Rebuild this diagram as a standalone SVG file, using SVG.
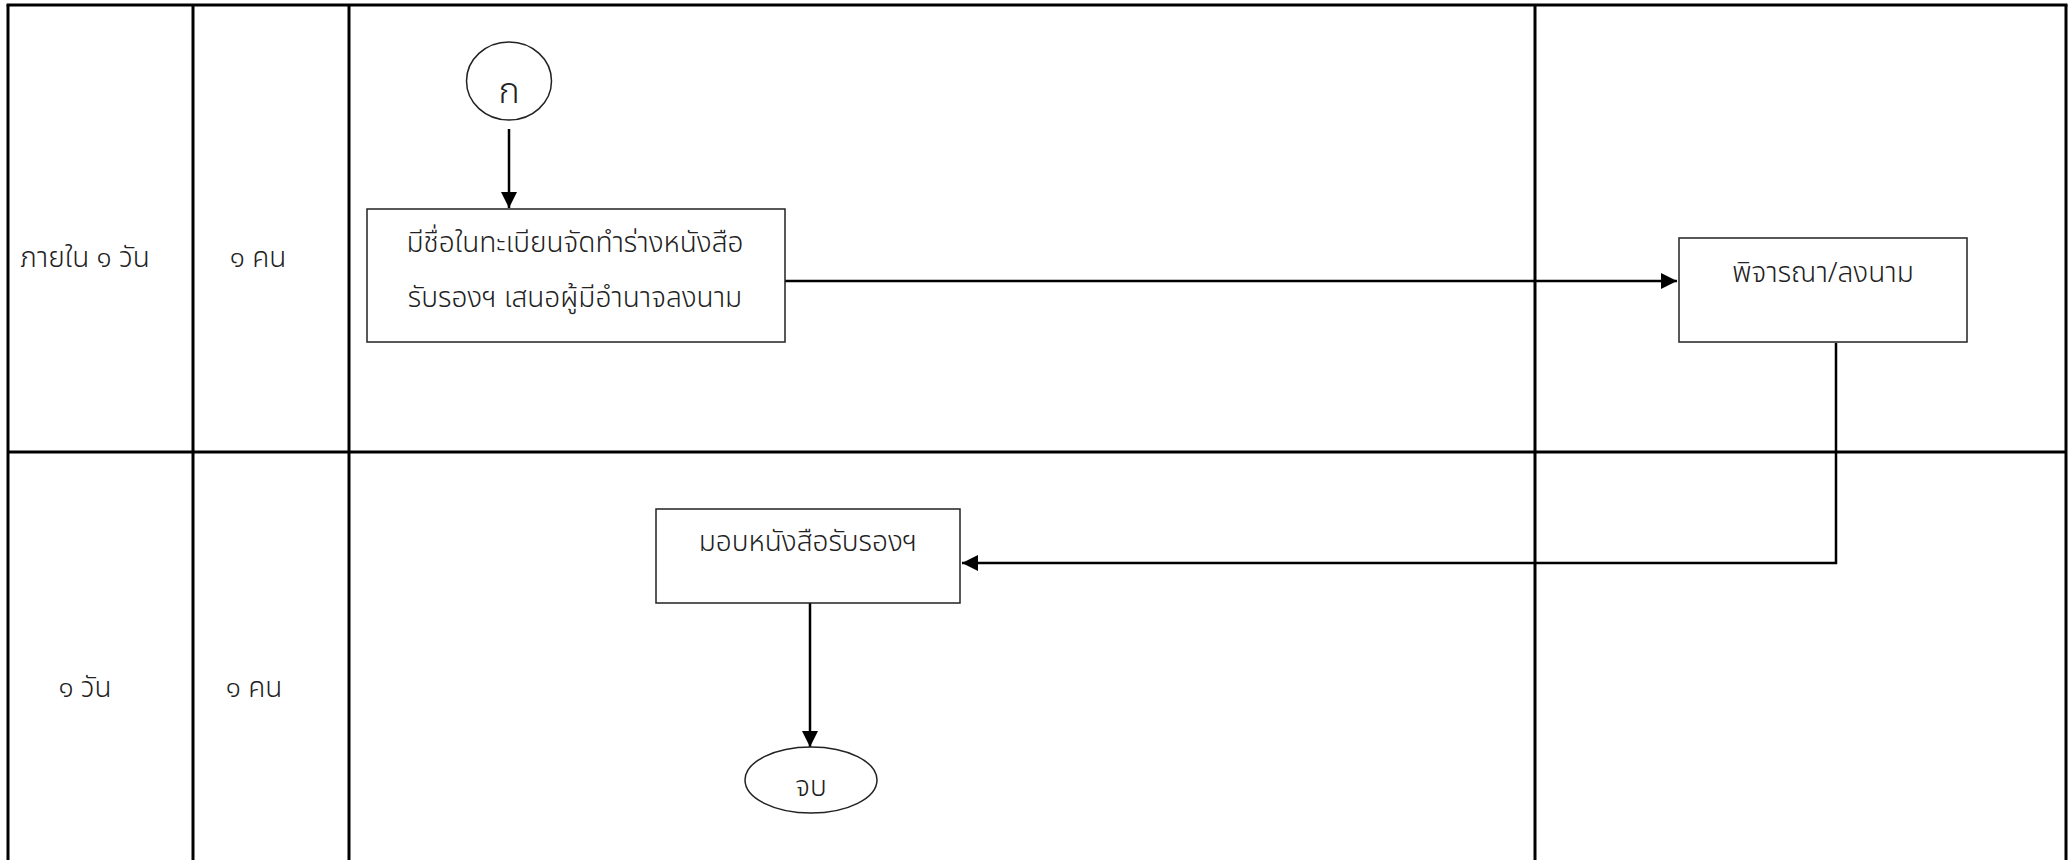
<svg xmlns="http://www.w3.org/2000/svg" width="2069" height="860" viewBox="0 0 2069 860">
<defs>
<style>
.lane{stroke:#000;stroke-width:3;fill:none}
.box{fill:#fff;stroke:#222;stroke-width:1.5}
.conn{stroke:#000;stroke-width:2.5;fill:none}
.t{font-family:"Noto Sans Thai","Leelawadee UI",Tahoma,"Noto Sans",sans-serif;font-size:28px;font-weight:300;fill:#222}
.big{font-size:36px}
</style>
<marker id="arr" markerUnits="userSpaceOnUse" markerWidth="18" markerHeight="18" refX="16" refY="8" orient="auto">
<path d="M0,0 L16,8 L0,16 Z" fill="#000"/>
</marker>
</defs>
<rect width="2069" height="860" fill="#fff"/>
<g id="lanes">
<line class="lane" x1="6.5" y1="5" x2="2067.5" y2="5"/>
<line class="lane" x1="8" y1="5" x2="8" y2="860"/>
<line class="lane" x1="193" y1="5" x2="193" y2="860"/>
<line class="lane" x1="349" y1="5" x2="349" y2="860"/>
<line class="lane" x1="1535" y1="5" x2="1535" y2="860"/>
<line class="lane" x1="2066" y1="5" x2="2066" y2="860"/>
<line class="lane" x1="8" y1="452" x2="2066" y2="452"/>
<text class="t" x="85" y="267" text-anchor="middle">ภายใน ๑ วัน</text>
<text class="t" x="258" y="267" text-anchor="middle">๑  คน</text>
<text class="t" x="85" y="697" text-anchor="middle">๑  วัน</text>
<text class="t" x="254" y="697" text-anchor="middle">๑  คน</text>
</g>
<g id="connectors">
<line class="conn" x1="509" y1="129" x2="509" y2="208" marker-end="url(#arr)"/>
<line class="conn" x1="785" y1="281" x2="1677" y2="281" marker-end="url(#arr)"/>
<polyline class="conn" points="1836,343 1836,563 962,563" marker-end="url(#arr)"/>
<line class="conn" x1="810" y1="603" x2="810" y2="747" marker-end="url(#arr)"/>
</g>
<g id="start">
<ellipse class="box" cx="509" cy="81" rx="42.5" ry="39"/>
<text class="t big" x="509" y="103" text-anchor="middle">ก</text>
</g>
<g id="draft">
<rect class="box" x="367" y="209" width="418" height="133"/>
<text class="t" x="575" y="252" text-anchor="middle">มีชื่อในทะเบียนจัดทำร่างหนังสือ</text>
<text class="t" x="575" y="307" text-anchor="middle">รับรองฯ เสนอผู้มีอำนาจลงนาม</text>
</g>
<g id="sign">
<rect class="box" x="1679" y="238" width="288" height="104"/>
<text class="t" x="1823" y="282" text-anchor="middle">พิจารณา/ลงนาม</text>
</g>
<g id="deliver">
<rect class="box" x="656" y="509" width="304" height="94"/>
<text class="t" x="808" y="551" text-anchor="middle">มอบหนังสือรับรองฯ</text>
</g>
<g id="end">
<ellipse class="box" cx="811" cy="780" rx="66" ry="33"/>
<text class="t" x="811" y="796" text-anchor="middle">จบ</text>
</g>
</svg>
